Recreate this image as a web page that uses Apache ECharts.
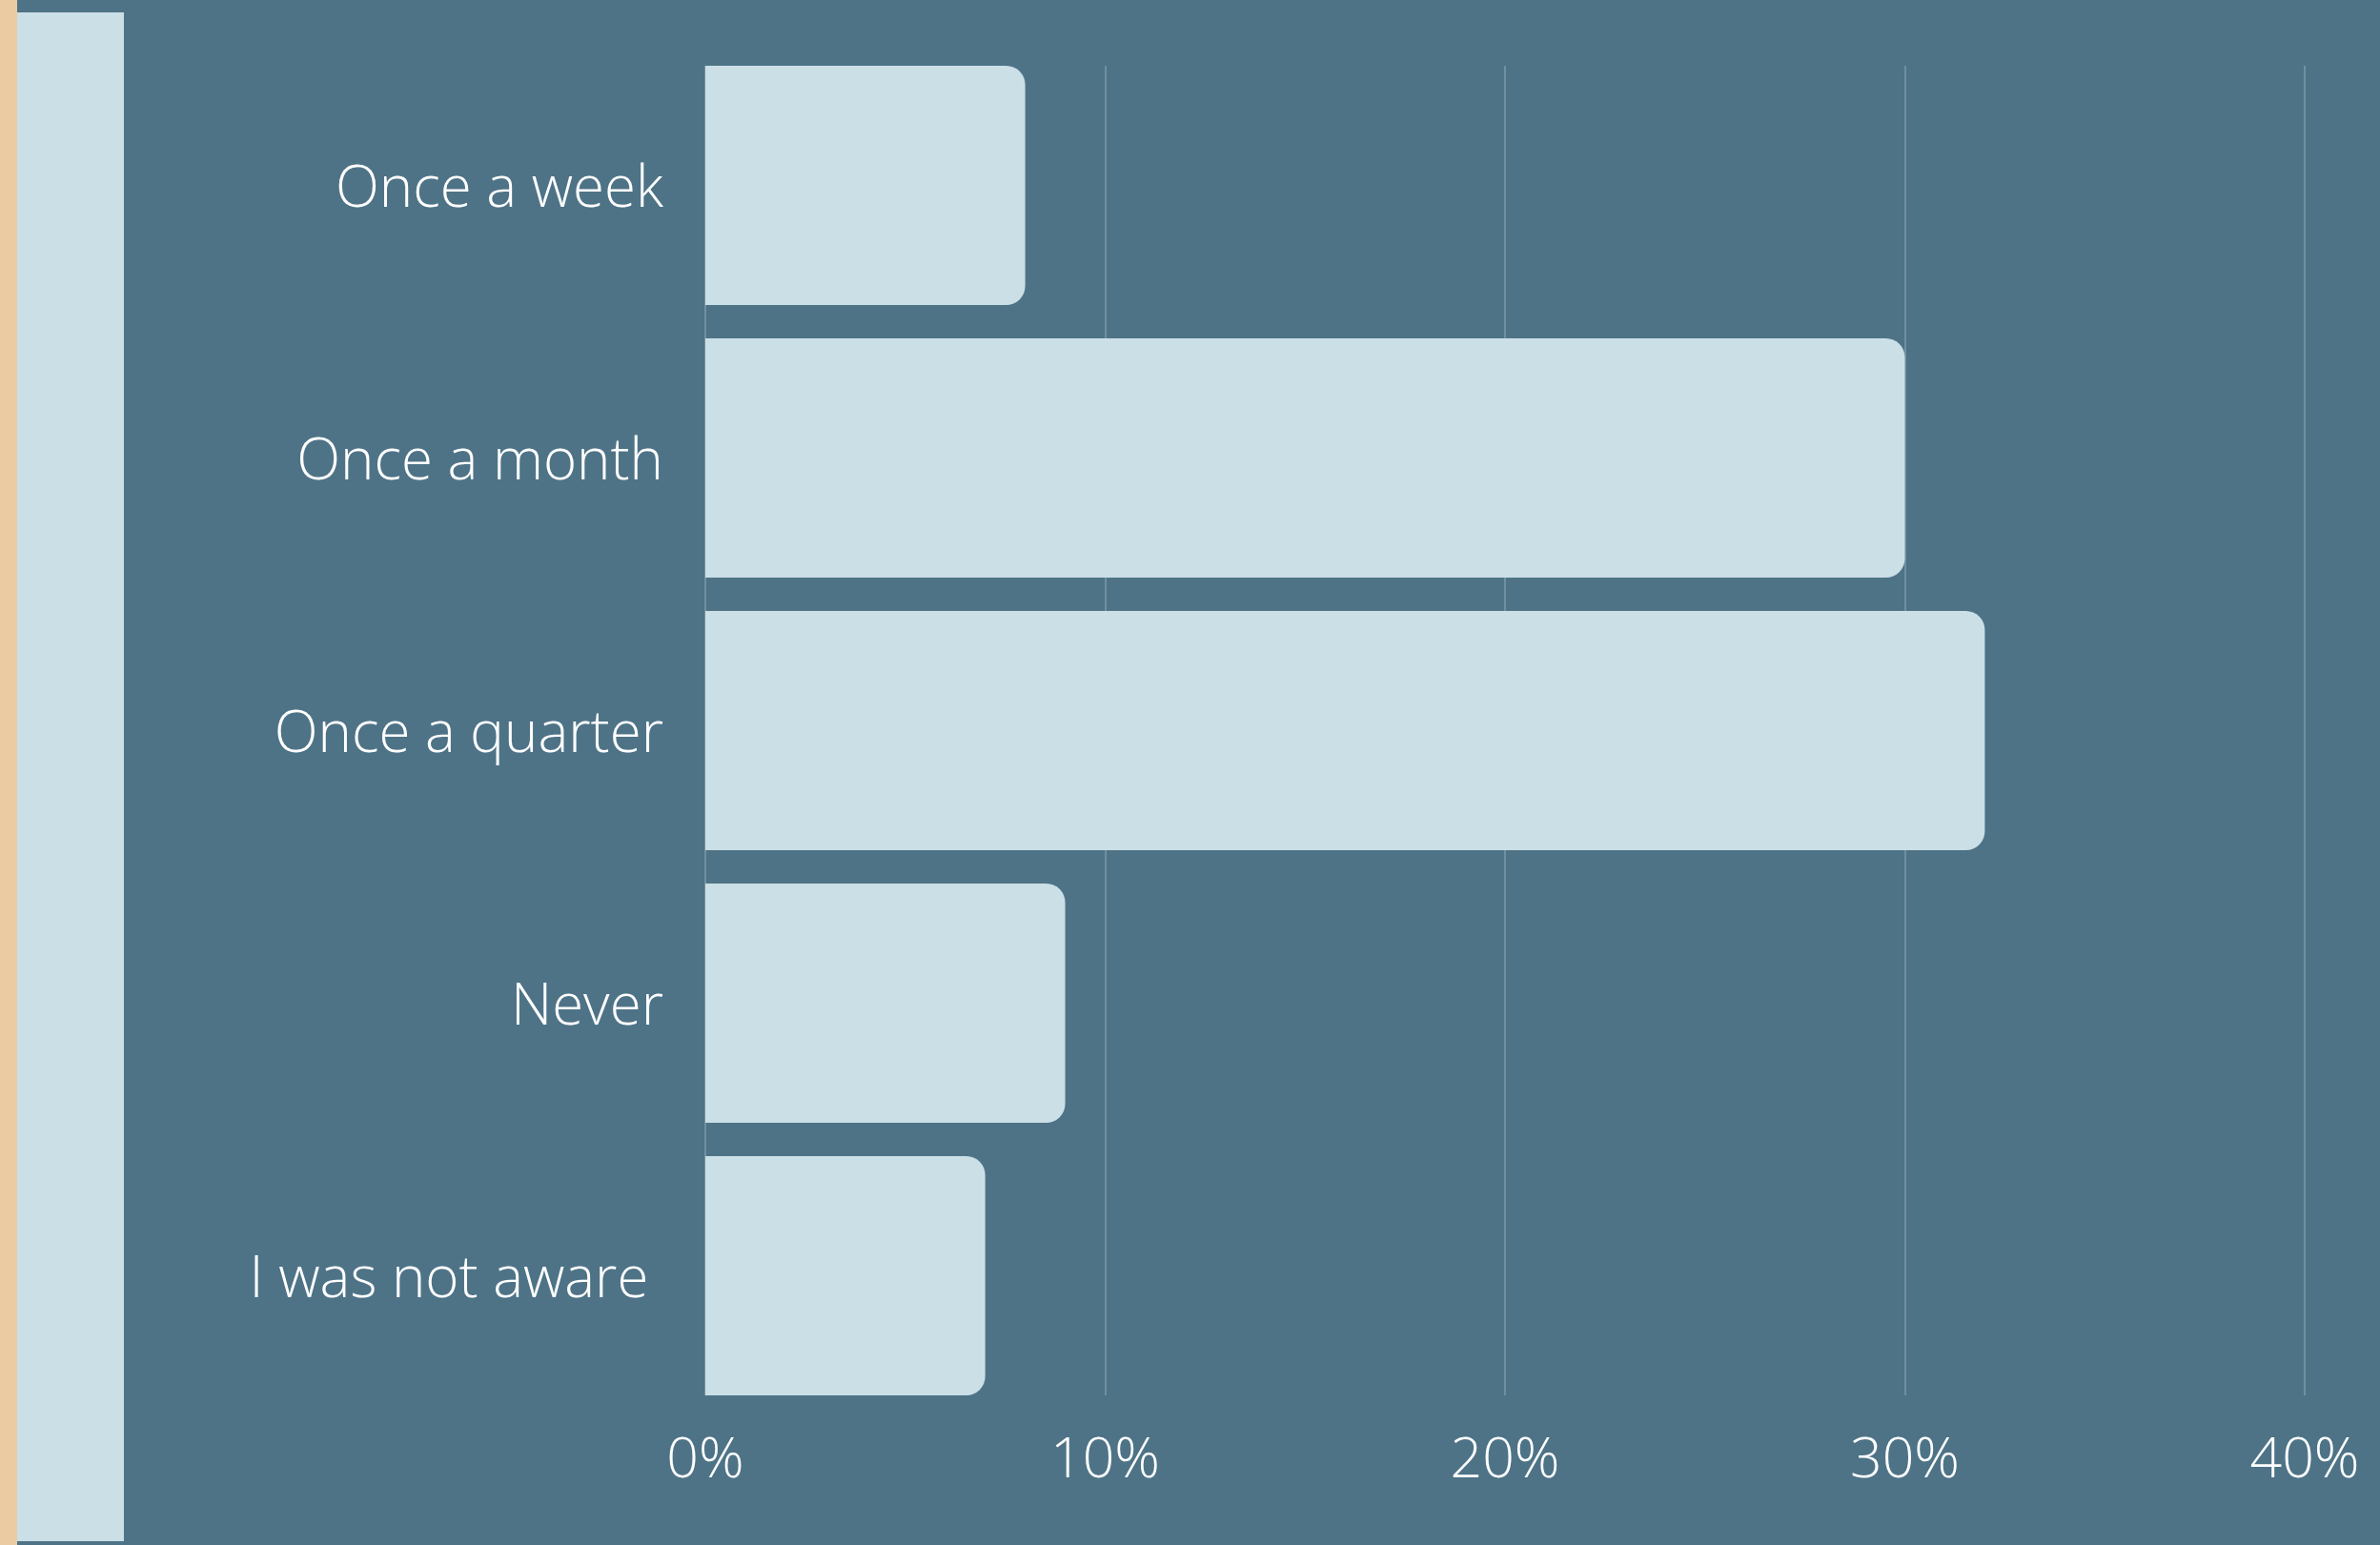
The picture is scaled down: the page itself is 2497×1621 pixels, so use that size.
<!DOCTYPE html>
<html>
<head>
<meta charset="utf-8">
<style>
html,body{margin:0;padding:0;background:#4E7387;}
#chart{width:2497px;height:1621px;}
</style>
<script src="https://cdn.jsdelivr.net/npm/echarts@6/dist/echarts.min.js"></script>
</head>
<body>
<div id="chart"></div>
<script>
const categories = ['Once a week', 'Once a month', 'Once a quarter', 'Never', 'I was not aware '];
const values = [8, 30, 32, 9, 7];
const tickMin = 0, tickMax = 40, tickStep = 10;

const FONT = '"Open Sans", "Lato", sans-serif';
const chart = echarts.init(document.getElementById('chart'), null, {renderer: 'canvas'});
chart.setOption({
  backgroundColor: '#4E7387',
  animation: false,
  graphic: [
    {type: 'rect', shape: {x: 0, y: 0, width: 18, height: 1621}, style: {fill: '#EBCBA2'}, silent: true},
    {type: 'rect', shape: {x: 18, y: 13, width: 112, height: 1604}, style: {fill: '#CBDFE6'}, silent: true}
  ],
  grid: [
    {left: 740, right: 79, top: 51.5, bottom: 139.5},
    {left: 740, right: 79, top: 69, bottom: 157}
  ],
  xAxis: [
    {type: 'value', gridIndex: 0, min: tickMin, max: tickMax, interval: tickStep,
     axisLine: {show: false}, axisTick: {show: false}, axisLabel: {show: false}, splitLine: {show: false}},
    {type: 'value', gridIndex: 1, min: tickMin, max: tickMax, interval: tickStep,
     axisLine: {show: false}, axisTick: {show: false},
     splitLine: {show: true, lineStyle: {color: '#7D98A7', width: 1.5}},
     axisLabel: {color: '#FFFFFF', fontFamily: FONT, fontWeight: 300, fontSize: 59, margin: 40, lineHeight: 59,
       formatter: v => v + '%'}}
  ],
  yAxis: [
    {type: 'category', gridIndex: 0, data: categories, inverse: true,
     axisLine: {show: false}, axisTick: {show: false}, splitLine: {show: false},
     axisLabel: {margin: 44,
       formatter: v => '{a|' + v + '}',
       rich: {a: {color: '#FFFFFF', fontFamily: FONT, fontWeight: 300, fontSize: 60, lineHeight: 60,
         padding: [11, 0, 0, 0]}}}},
    {type: 'value', gridIndex: 1, min: 0, max: 1, show: false, splitLine: {show: false}}
  ],
  series: [
    {type: 'bar', xAxisIndex: 0, yAxisIndex: 0, data: values, barWidth: 251,
     itemStyle: {color: '#CBDFE6', borderRadius: [0, 20, 20, 0]}, z: 3},
    {type: 'line', xAxisIndex: 1, yAxisIndex: 1, data: [], silent: true}
  ]
});
</script>
</body>
</html>
